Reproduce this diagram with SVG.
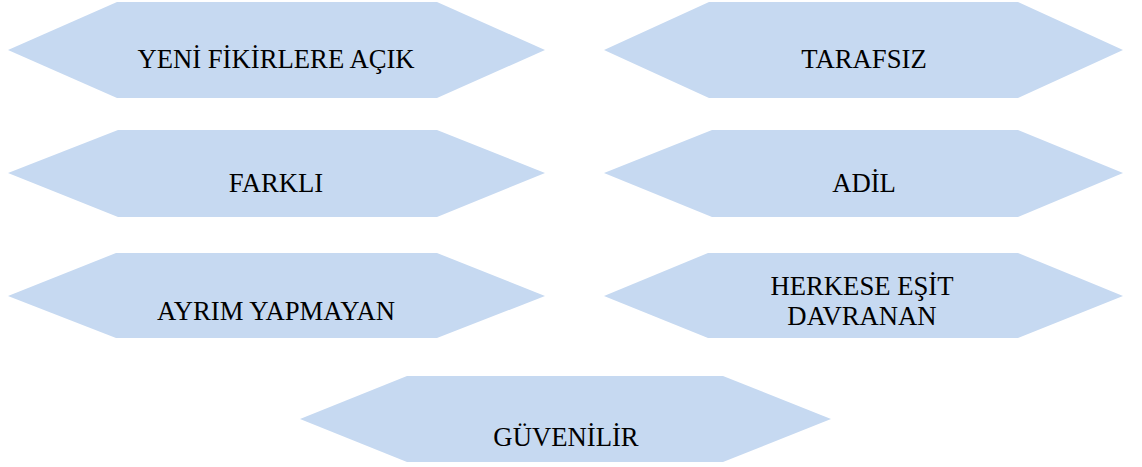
<svg xmlns="http://www.w3.org/2000/svg" width="1142" height="467" viewBox="0 0 1142 467">
<style>
.s{fill:#C6D9F1;stroke:none}
.t{font-family:"Liberation Serif","Times New Roman",serif;font-size:26.7px;fill:#000;text-anchor:middle}
</style>
<rect width="1142" height="467" fill="#fff"/>
<g id="n1"><polygon class="s" points="8,50 117,2 437,2 545,50 437,98 117,98"/><text class="t" x="276" y="68">YENİ FİKİRLERE AÇIK</text></g>
<g id="n2"><polygon class="s" points="604,50 709,2 1018,2 1123,50 1018,98 709,98"/><text class="t" x="864" y="68">TARAFSIZ</text></g>
<g id="n3"><polygon class="s" points="8,173 118,130 437,130 545,173 437,217 118,217"/><text class="t" x="276" y="192">FARKLI</text></g>
<g id="n4"><polygon class="s" points="604,173 712,130 1018,130 1123,173 1018,217 712,217"/><text class="t" x="864" y="192">ADİL</text></g>
<g id="n5"><polygon class="s" points="8,296 116,253 437,253 545,296 437,338 116,338"/><text class="t" x="276" y="320">AYRIM YAPMAYAN</text></g>
<g id="n6"><polygon class="s" points="604,296 708,253 1018,253 1123,296 1018,338 708,338"/><text class="t" x="862" y="295">HERKESE EŞİT</text><text class="t" x="862" y="325">DAVRANAN</text></g>
<g id="n7"><polygon class="s" points="300,419 407,376 723,376 831,419 723,462 407,462"/><text class="t" x="566" y="446">GÜVENİLİR</text></g>
<g id="connectors"></g>
</svg>
